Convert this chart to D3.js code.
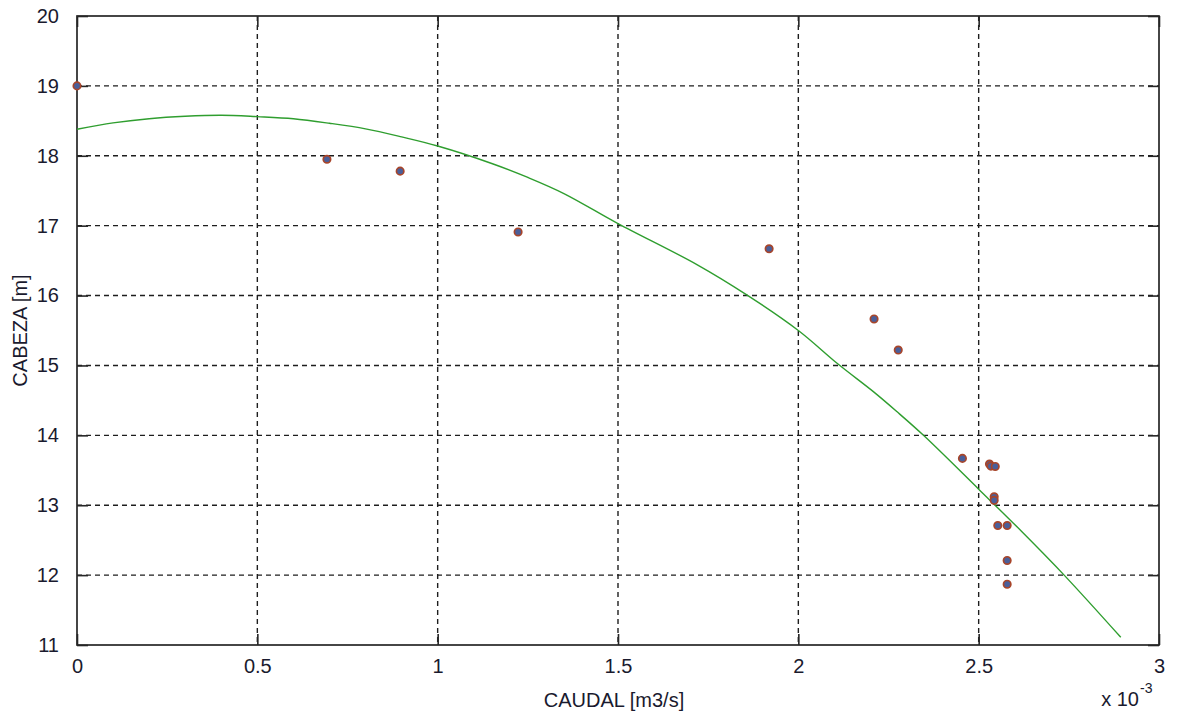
<!DOCTYPE html>
<html><head><meta charset="utf-8">
<script src="https://cdn.jsdelivr.net/npm/d3@7"></script>
<style>
html,body{margin:0;padding:0;background:#fff;}
svg{display:block;font-family:"Liberation Sans",Arial,sans-serif;}
</style></head>
<body>
<svg id="chart" width="1177" height="715"></svg>
<script>
// Measured points: caudal [m3/s], cabeza [m]
const caudalPts = [0, 0.000693, 0.000896, 0.001223, 0.001919, 0.002210, 0.002277, 0.002455, 0.002530, 0.002534, 0.002546, 0.002543, 0.002543, 0.002553, 0.002579, 0.002579, 0.002579];
const cabezaPts = [19.0, 17.95, 17.78, 16.91, 16.67, 15.665, 15.22, 13.67, 13.59, 13.56, 13.555, 13.12, 13.07, 12.71, 12.71, 12.21, 11.87];
// Fitted curve
const caudalFit = [0, 0.0001, 0.0002, 0.0003, 0.0004, 0.0005, 0.0006, 0.0007, 0.0008, 0.0009, 0.0010, 0.00115, 0.00125, 0.00135, 0.0015, 0.00172, 0.001857, 0.0020, 0.00211, 0.002208, 0.002273, 0.002347, 0.0025, 0.00262, 0.002737, 0.002894];
const cabezaFit = [18.38, 18.47, 18.53, 18.565, 18.58, 18.56, 18.53, 18.465, 18.385, 18.27, 18.14, 17.89, 17.69, 17.46, 17.03, 16.44, 16.01, 15.50, 15.02, 14.625, 14.34, 14.0, 13.23, 12.62, 12.00, 11.11];
const xTicks = [0, 0.0005, 0.001, 0.0015, 0.002, 0.0025, 0.003];
const yTicks = [11, 12, 13, 14, 15, 16, 17, 18, 19, 20];

const svg = d3.select("#chart");
const L = 77, R = 1159, T = 16, B = 645;
const x = d3.scaleLinear().domain([0, 0.003]).range([L, R]);
const y = d3.scaleLinear().domain([11, 20]).range([B, T]);
const axisColor = "#262626";
const textColor = "#1a1a2e";

// grid
const grid = svg.append("g");
grid.selectAll("line.gx").data(xTicks.slice(1, -1)).join("line")
  .attr("x1", d => x(d)).attr("x2", d => x(d)).attr("y1", T).attr("y2", B)
  .attr("stroke", "#1e1e1e").attr("stroke-width", 1.4).attr("stroke-dasharray", "5,4");
grid.selectAll("line.gy").data(yTicks.slice(1, -1)).join("line")
  .attr("y1", d => y(d)).attr("y2", d => y(d)).attr("x1", L).attr("x2", R)
  .attr("stroke", "#1e1e1e").attr("stroke-width", 1.4).attr("stroke-dasharray", "5,4");

// axes (ticks inside)
const fmtX = d => d3.format("~g")(+(d * 1000).toFixed(3));
const xb = svg.append("g").attr("transform", `translate(0,${B})`)
  .call(d3.axisBottom(x).tickValues(xTicks).tickFormat(fmtX).tickSizeInner(-11).tickSizeOuter(0).tickPadding(14));
const xt = svg.append("g").attr("transform", `translate(0,${T})`)
  .call(d3.axisTop(x).tickValues(xTicks).tickFormat("").tickSizeInner(-11).tickSizeOuter(0));
const yl = svg.append("g").attr("transform", `translate(${L},0)`)
  .call(d3.axisLeft(y).tickValues(yTicks).tickFormat(d3.format("d")).tickSizeInner(-11).tickSizeOuter(0).tickPadding(18));
const yr = svg.append("g").attr("transform", `translate(${R},0)`)
  .call(d3.axisRight(y).tickValues(yTicks).tickFormat("").tickSizeInner(-11).tickSizeOuter(0));
[xb, xt, yl, yr].forEach(g => {
  g.select(".domain").remove();
  g.selectAll(".tick line").attr("stroke", axisColor).attr("stroke-width", 1.6);
  g.selectAll(".tick text").attr("fill", textColor).style("font-size", "20px").style("font-family", "'Liberation Sans',Arial,sans-serif");
});
svg.append("rect").attr("x", L).attr("y", T).attr("width", R - L).attr("height", B - T)
  .attr("fill", "none").attr("stroke", axisColor).attr("stroke-width", 1.7);

// fitted curve
const fit = caudalFit.map((q, i) => [q, cabezaFit[i]]);
svg.append("path").datum(fit)
  .attr("d", d3.line().x(d => x(d[0])).y(d => y(d[1])).curve(d3.curveCatmullRom))
  .attr("fill", "none").attr("stroke", "#2f9e2f").attr("stroke-width", 1.4);

// points
const pts = caudalPts.map((q, i) => [q, cabezaPts[i]]);
svg.append("g").selectAll("circle").data(pts).join("circle")
  .attr("cx", d => x(d[0])).attr("cy", d => y(d[1])).attr("r", 3.7)
  .attr("fill", "#4a5f9a").attr("stroke", "#a8452a").attr("stroke-width", 1.7);

// labels
svg.append("text").attr("x", (L + R) / 2 - 4).attr("y", 707).attr("text-anchor", "middle")
  .style("font-size", "20px").attr("fill", textColor).text("CAUDAL [m3/s]");
svg.append("text").attr("transform", `translate(27,${(T + B) / 2}) rotate(-90)`).attr("text-anchor", "middle")
  .style("font-size", "20px").attr("fill", textColor).text("CABEZA [m]");
svg.append("text").attr("x", 1139).attr("y", 706).attr("text-anchor", "end")
  .style("font-size", "20px").attr("fill", textColor).text("x 10");
svg.append("text").attr("x", 1140).attr("y", 693).style("font-size", "14px").attr("fill", textColor).text("-3");
</script>
</body></html>
